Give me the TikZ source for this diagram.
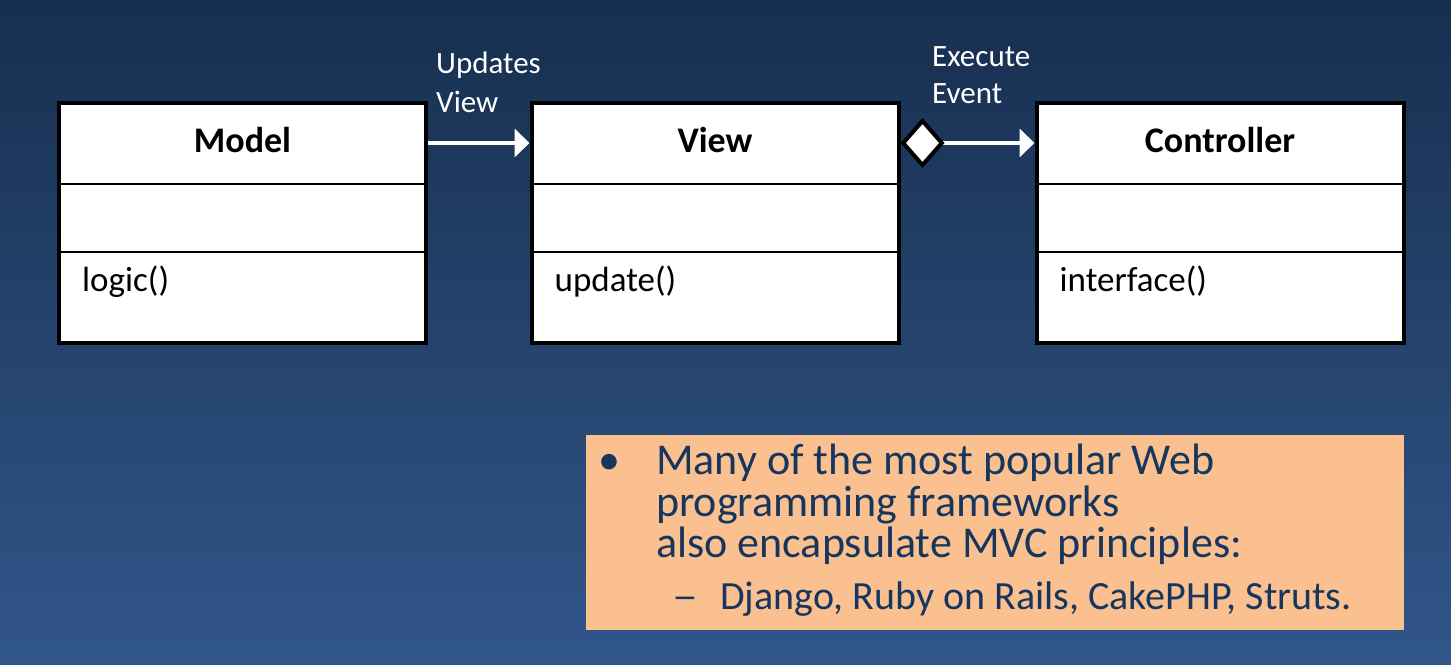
\documentclass[tikz,border=0pt]{standalone}
\usepackage{fontspec}
\setmainfont{Carlito}
\usetikzlibrary{arrows.meta, positioning, calc}
\definecolor{slidetop}{HTML}{172F4F}
\definecolor{slidebottom}{HTML}{31568A}
\definecolor{notefill}{HTML}{FAC090}
\definecolor{notetext}{HTML}{17365D}

\begin{document}
\begin{tikzpicture}[x=1pt, y=1pt, >=Stealth,
  classbox/.style={draw=black, fill=white, line width=4pt, minimum width=367pt, minimum height=240pt, inner sep=0pt},
  classname/.style={font=\fontsize{36}{43}\selectfont\bfseries, anchor=base, inner sep=0pt},
  classop/.style={font=\fontsize{35}{42}\selectfont, anchor=base west, inner sep=0pt},
  divider/.style={line width=1.5pt},
  edgelabel/.style={font=\fontsize{31}{38}\selectfont, text=white, anchor=base west, inner sep=0pt},
  link/.style={draw=white, line width=4pt, -{Triangle[length=15pt, width=28pt]}},
  noteline/.style={font=\fontsize{44}{42}\selectfont, text=notetext, anchor=base west, inner sep=0pt}]

  % Background
  \shade[top color=slidetop, bottom color=slidebottom] (0,0) rectangle (1451,664);

  % Classes
  \foreach \name/\cx/\cname/\cop in {model/242.5/Model/logic(), view/715/View/update(), controller/1220/Controller/interface()} {
    \node[classbox] (\name) at (\cx,441) {};
    \draw[divider] ({\cx-183.5},480) -- ({\cx+183.5},480);
    \draw[divider] ({\cx-183.5},412) -- ({\cx+183.5},412);
    \node[classname] (\name-title) at (\cx,511) {\cname};
    \node[classop] (\name-op) at ({\cx-160.5},372) {\cop};
  }

  % Associations (on the name row)
  \draw[link] ([yshift=80pt]model.east) -- ([yshift=80pt]view.west);
  \draw[link, {Diamond[length=44pt, width=50pt, fill=white, color=black]}-{Triangle[length=15pt, width=28pt]}] ([yshift=80pt]view.east) -- ([yshift=80pt]controller.west);
  \node[edgelabel] (updates-a) at (436,590) {Updates};
  \node[edgelabel] (updates-b) at (436,551) {View};
  \node[edgelabel] (execute-a) at (932,597) {Execute};
  \node[edgelabel] (execute-b) at (932,560) {Event};

  % Note
  \node[fill=notefill, minimum width=818pt, minimum height=195pt, inner sep=0pt] (note) at (995,131.5) {};
  \node[noteline, anchor=base] (bullet) at (609.5,189) {•};
  \node[noteline] (line-a) at (656,189) {Many of the most popular Web};
  \node[noteline] (line-b) at (656,147) {programming frameworks};
  \node[noteline] (line-c) at (656,106) {also encapsulate MVC principles:};
  \node[noteline, font=\fontsize{40}{48}\selectfont, anchor=base, xscale=1.3] (dash) at (685,54) {–};
  \node[noteline, font=\fontsize{40}{48}\selectfont] (line-d) at (720,54) {Django, Ruby on Rails, CakePHP, Struts.};
\end{tikzpicture}
\end{document}
